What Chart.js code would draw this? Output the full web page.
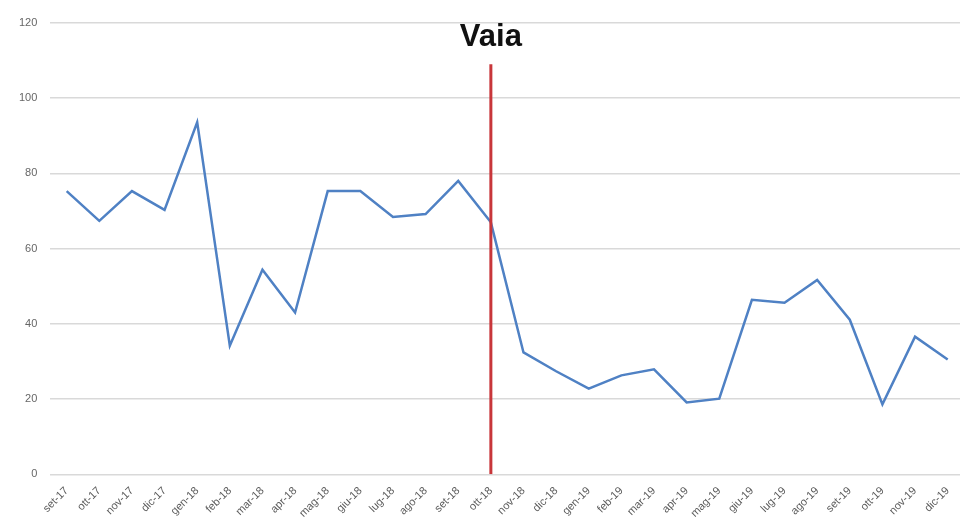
<!DOCTYPE html>
<html>
<head>
<meta charset="utf-8">
<script src="https://cdn.jsdelivr.net/npm/chart.js@4/dist/chart.umd.min.js"></script>
<style>
  html, body { margin: 0; padding: 0; background: #fff; overflow: hidden; }
  #wrap { width: 964px; height: 528px; }
</style>
</head>
<body>
<div id="wrap"><canvas id="myChart"></canvas></div>
<script>
var months = ['set-17', 'ott-17', 'nov-17', 'dic-17', 'gen-18', 'feb-18', 'mar-18', 'apr-18',
    'mag-18', 'giu-18', 'lug-18', 'ago-18', 'set-18', 'ott-18', 'nov-18', 'dic-18',
    'gen-19', 'feb-19', 'mar-19', 'apr-19', 'mag-19', 'giu-19', 'lug-19', 'ago-19',
    'set-19', 'ott-19', 'nov-19', 'dic-19'];
var values = [75.3, 67.4, 75.3, 70.3, 93.6, 34.2, 54.4, 43, 75.3, 75.3, 68.4, 69.2, 78, 67,
    32.4, 27.4, 22.8, 26.3, 27.9, 19.1, 20.1, 46.4, 45.6, 51.7, 41.1, 18.6, 36.6, 30.5];
var eventMonth = 'ott-18';
var eventLabel = 'Vaia';
var eventTop = 109;
var yTicks = [0, 20, 40, 60, 80, 100, 120];

var eventLine = [{ x: eventMonth, y: 0 }, { x: eventMonth, y: eventTop }];

// writes the event name above the red marker
var eventLabelPlugin = {
    id: 'eventLabel',
    afterDraw: function (chart) {
        var ctx = chart.ctx;
        var x = chart.scales.x.getPixelForValue(months.indexOf(eventMonth));
        ctx.save();
        ctx.font = 'bold 31px "Liberation Sans", Arial, sans-serif';
        ctx.fillStyle = '#111';
        ctx.textAlign = 'center';
        ctx.textBaseline = 'alphabetic';
        ctx.fillText(eventLabel, x, 46);
        ctx.restore();
    }
};

var ctx = document.getElementById('myChart').getContext('2d');
var myChart = new Chart(ctx, {
    type: 'line',
    data: {
        labels: months,
        datasets: [
            {
                data: values,
                borderColor: '#4f81c4',
                borderWidth: 2.5,
                pointRadius: 0,
                tension: 0,
                order: 1
            },
            {
                data: eventLine,
                borderColor: '#c8363a',
                borderWidth: 3,
                pointRadius: 0,
                order: 0
            }
        ]
    },
    options: {
        responsive: true,
        maintainAspectRatio: false,
        animation: false,
        layout: { padding: { top: 23, right: 0, left: 6, bottom: 6 } },
        plugins: {
            legend: { display: false },
            tooltip: { enabled: false }
        },
        scales: {
            x: {
                offset: true,
                grid: { display: false },
                border: { display: false },
                ticks: {
                    color: '#5a5a5a',
                    font: { family: '"Liberation Sans", Arial, sans-serif', size: 11 },
                    maxRotation: 45,
                    minRotation: 45,
                    autoSkip: false,
                    padding: 2
                }
            },
            y: {
                min: 0,
                max: 120,
                afterBuildTicks: function (axis) {
                    axis.ticks = yTicks.map(function (v) { return { value: v }; });
                },
                grid: { color: '#d9d9d9', lineWidth: 1.5, drawTicks: false },
                border: { display: false },
                ticks: {
                    color: '#666',
                    font: { family: '"Liberation Sans", Arial, sans-serif', size: 11 },
                    padding: 13
                }
            }
        }
    },
    plugins: [eventLabelPlugin]
});
</script>
</body>
</html>
